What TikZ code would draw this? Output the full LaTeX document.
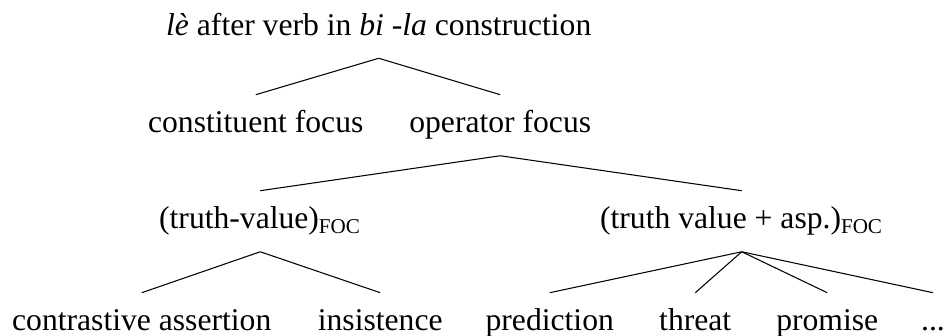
\documentclass[tikz,border=0pt]{standalone}
\usepackage{fontspec}
\setmainfont{Liberation Serif}
\begin{document}
\begin{tikzpicture}[lbl/.style={anchor=base, inner sep=0pt, text height=0.5cm, text depth=0.3cm, font=\fontsize{12}{14.4}\selectfont}]
	\useasboundingbox (0,0) rectangle (12.6,4.48);

	\node[lbl] (root) at (5.05,4.01) {\textit{lè} after verb in \textit{bi -la} construction};

	\node[lbl] (cons) at (3.41,2.71) {constituent focus};
	\node[lbl] (oper) at (6.67,2.71) {operator focus};
	\draw (root.south) -- (cons.north);
	\draw (root.south) -- (oper.north);

	\node[lbl] (tv) at (3.47,1.43) {(truth-value)\textsubscript{FOC}};
	\node[lbl] (tva) at (9.89,1.43) {(truth value + asp.)\textsubscript{FOC}};
	\draw (oper.south) -- (tv.north);
	\draw (oper.south) -- (tva.north);

	\node[lbl] (contr) at (1.89,0.07) {contrastive assertion};
	\node[lbl] (insist) at (5.07,0.07) {insistence};
	\draw (tv.south) -- (contr.north);
	\draw (tv.south) -- (insist.north);

	\node[lbl] (pred) at (7.33,0.07) {prediction};
	\node[lbl] (threat) at (9.27,0.07) {threat};
	\node[lbl] (prom) at (11.03,0.07) {promise};
	\node[lbl] (more) at (12.44,0.07) {...};
	\foreach \c in {pred,threat,prom,more}
	\draw (tva.south) -- (\c.north);
\end{tikzpicture}
\end{document}
